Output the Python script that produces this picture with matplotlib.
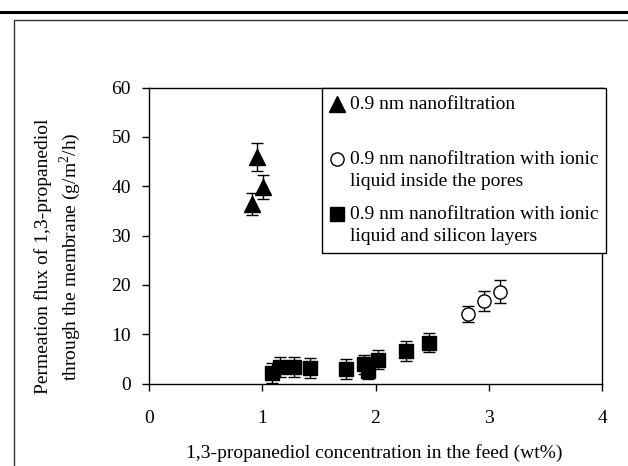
import matplotlib
matplotlib.use("Agg")
import matplotlib.pyplot as plt
from matplotlib.lines import Line2D
from matplotlib.legend_handler import HandlerLine2D
from matplotlib.transforms import Affine2D

plt.rcParams['font.family'] = ['Liberation Serif', 'DejaVu Serif']
plt.rcParams['mathtext.fontset'] = 'custom'
plt.rcParams['mathtext.rm'] = 'Liberation Serif'

FS = 14

# 0.9 nm nanofiltration
nf_x = [0.91, 0.95, 1.01]
nf_y = [36.4, 45.9, 39.8]
nf_err = [2.2, 2.8, 2.4]

# with ionic liquid inside the pores
il_x = [2.82, 2.96, 3.10]
il_y = [14.1, 16.8, 18.6]
il_err = [1.7, 2.0, 2.3]

# with ionic liquid and silicon layers
sl_x = [1.09, 1.16, 1.28, 1.42, 1.74, 1.90, 1.93, 2.02, 2.27, 2.47]
sl_y = [2.1, 3.3, 3.4, 3.2, 2.9, 3.9, 2.6, 4.8, 6.6, 8.3]
sl_err = [2.0, 2.0, 2.0, 2.0, 2.0, 1.9, 1.6, 1.9, 2.0, 2.0]

labels = ["0.9 nm nanofiltration\n",
          "0.9 nm nanofiltration with ionic\nliquid inside the pores",
          "0.9 nm nanofiltration with ionic\nliquid and silicon layers"]


class FirstLineHandler(HandlerLine2D):
    # put the legend marker next to the first line of a two-line label
    def create_artists(self, legend, orig_handle, xdescent, ydescent,
                       width, height, fontsize, trans):
        arts = super().create_artists(legend, orig_handle, xdescent, ydescent,
                                      width, height, fontsize, trans)
        shift = Affine2D().translate(0, 0.6 * fontsize)
        for a in arts:
            a.set_transform(shift + trans)
        return arts


fig = plt.figure(figsize=(6.28, 4.66), dpi=100)
ax = fig.add_axes([0.2373, 0.177, 0.7213, 0.635])

eb = dict(ecolor='black', elinewidth=1, capsize=4, capthick=1, linestyle='none')
ax.errorbar(nf_x, nf_y, yerr=nf_err, marker='^', ms=11, mfc='black', mec='black', **eb)
ax.errorbar(il_x, il_y, yerr=il_err, marker='o', ms=9.5, mfc='white', mec='black', mew=1, **eb)
ax.errorbar(sl_x, sl_y, yerr=sl_err, marker='s', ms=9.5, mfc='black', mec='black', **eb)

ax.set_xlim(0, 4)
ax.set_ylim(0, 60)
ax.set_xticks([0, 1, 2, 3, 4])
ax.set_yticks([0, 10, 20, 30, 40, 50, 60])
ax.tick_params(axis='both', direction='out', length=5, width=1, labelsize=FS, colors='black')
ax.tick_params(axis='x', pad=14)
ax.tick_params(axis='y', pad=8)
for s in ax.spines.values():
    s.set_linewidth(1)

ax.set_xlabel("1,3-propanediol concentration in the feed (wt%)", fontsize=FS)
ax.xaxis.set_label_coords(0.497, -0.205)
ax.set_ylabel("Permeation flux of 1,3-propanediol\nthrough the membrane (g/m$^2$/h)",
              fontsize=FS, linespacing=1.3)
ax.yaxis.set_label_coords(-0.145, 0.43)

leg_handles = [Line2D([], [], ls='none', marker='^', ms=11, color='black'),
               Line2D([], [], ls='none', marker='o', ms=9.5, mfc='white', mec='black'),
               Line2D([], [], ls='none', marker='s', ms=9.5, color='black')]
leg = ax.legend(leg_handles, labels, loc='upper left', bbox_to_anchor=(0.382, 1.0),
                borderaxespad=0, fancybox=False, edgecolor='black', framealpha=1,
                fontsize=FS, handlelength=0.7, handletextpad=0.3, labelspacing=0.8,
                borderpad=0.42, handler_map={Line2D: FirstLineHandler()})
leg.get_frame().set_linewidth(1)
for t in leg.get_texts():
    t.set_linespacing(1.42)

# page frame around the chart
fig.add_artist(Line2D([0, 1], [1 - 12 / 466, 1 - 12 / 466], color='black', lw=2.2))
fig.add_artist(Line2D([14 / 628, 14 / 628, 1], [0, 1 - 20 / 466, 1 - 20 / 466], color='#333333', lw=1))

fig.savefig("out.png", dpi=100)
